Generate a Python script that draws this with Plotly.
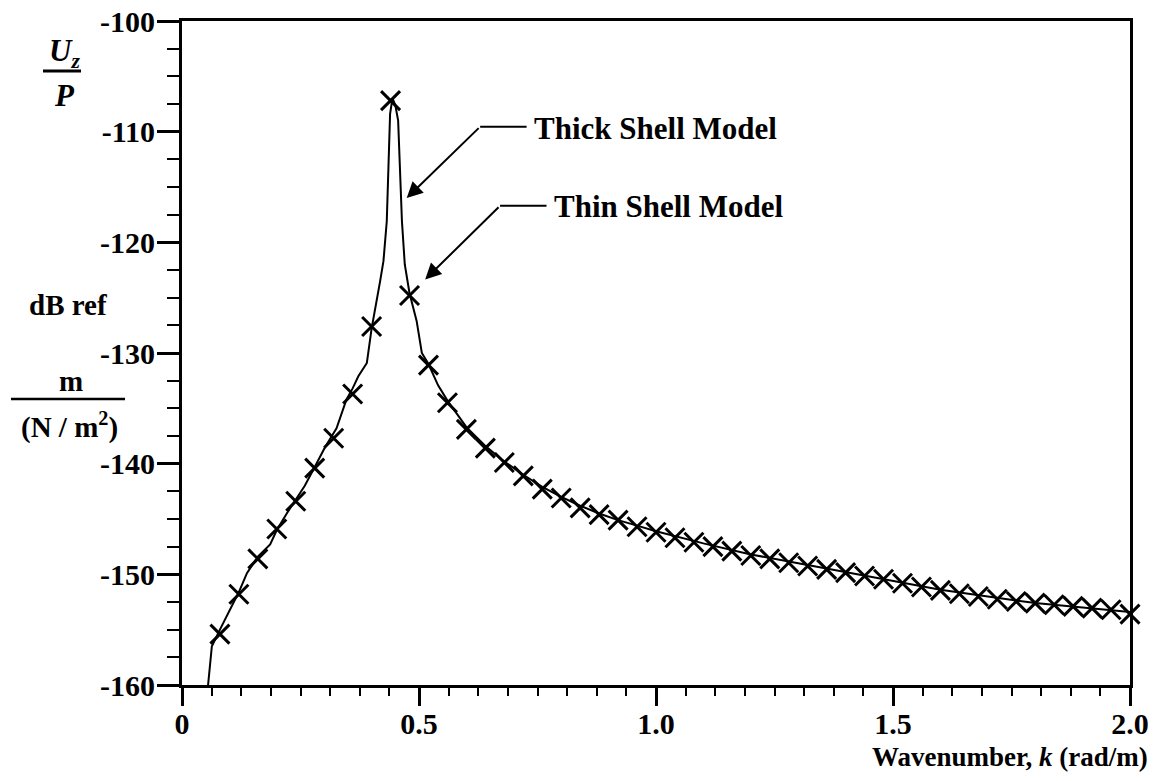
import plotly.graph_objects as go

# ---------------- data ----------------
thin_k = [0.08, 0.12, 0.16, 0.20, 0.24, 0.28, 0.32, 0.36, 0.40, 0.44, 0.48, 0.52,
          0.56, 0.60, 0.64, 0.68, 0.72, 0.76, 0.80, 0.84, 0.88, 0.92, 0.96, 1.00,
          1.04, 1.08, 1.12, 1.16, 1.20, 1.24, 1.28, 1.32, 1.36, 1.40, 1.44, 1.48,
          1.52, 1.56, 1.60, 1.64, 1.68, 1.72, 1.76, 1.80, 1.84, 1.88, 1.92, 1.96, 2.00]
thin_db = [-155.4, -151.8, -148.6, -145.9, -143.4, -140.4, -137.7, -133.7, -127.6, -107.2, -124.8, -131.1,
           -134.5, -136.9, -138.6, -139.9, -141.1, -142.3, -143.1, -144.0, -144.6, -145.1, -145.7, -146.2,
           -146.7, -147.1, -147.5, -147.9, -148.3, -148.6, -148.95, -149.25, -149.55, -149.85, -150.15, -150.45,
           -150.8, -151.15, -151.45, -151.75, -152.0, -152.25, -152.45, -152.6, -152.75, -152.9, -153.05, -153.2, -153.6]

thick_k = [0.055, 0.063, 0.08, 0.10, 0.12, 0.137, 0.16, 0.186, 0.20, 0.221, 0.24, 0.259,
           0.28, 0.302, 0.326, 0.347, 0.36, 0.372, 0.39, 0.40, 0.418, 0.425, 0.432, 0.435,
           0.439, 0.444, 0.45, 0.456, 0.46, 0.464, 0.47, 0.48, 0.495, 0.506, 0.52, 0.54,
           0.56, 0.60, 0.64, 0.68, 0.72, 0.76, 0.80, 0.84, 0.88, 0.92, 0.96, 1.00,
           1.10, 1.20, 1.30, 1.40, 1.50, 1.60, 1.70, 1.80, 1.90, 2.00]
thick_db = [-160.0, -156.5, -155.0, -153.3, -151.6, -149.9, -148.4, -147.3, -146.0, -144.5, -143.2, -142.0,
            -140.3, -138.5, -136.8, -134.2, -133.2, -132.1, -130.9, -127.8, -123.5, -121.7, -118.1, -112.9,
            -108.4, -107.0, -107.6, -109.0, -112.9, -118.1, -122.0, -124.6, -127.1, -130.0, -131.0, -132.9,
            -134.3, -136.7, -138.4, -139.8, -141.0, -142.1, -143.0, -143.8, -144.5, -145.1, -145.6, -146.1,
            -147.2, -148.2, -149.0, -149.8, -150.6, -151.4, -152.0, -152.6, -153.0, -153.4]

x_tickvals = [0, 0.5, 1.0, 1.5, 2.0]
x_ticktext = ["0", "0.5", "1.0", "1.5", "2.0"]
y_tickvals = [-160, -150, -140, -130, -120, -110, -100]
y_ticktext = ["-160", "-150", "-140", "-130", "-120", "-110", "-100"]

# ---------------- layout helpers ----------------
W, H = 1159, 781
L, R, T, B = 182, 29, 21, 96
PW, PH = W - L - R, H - T - B


def px(x):
    return (x - L) / PW


def py(y):
    return (H - B - y) / PH


FONT = "Liberation Serif"


def f(size):
    return dict(family=FONT, size=size, color="black")


fig = go.Figure()
fig.add_trace(go.Scatter(x=thick_k, y=thick_db, mode="lines",
                         line=dict(color="black", width=2), name="Thick Shell Model",
                         showlegend=False))
fig.add_trace(go.Scatter(x=thin_k, y=thin_db, mode="markers",
                         marker=dict(symbol="x-thin", size=19, color="black",
                                     line=dict(color="black", width=3)),
                         name="Thin Shell Model", showlegend=False, cliponaxis=False))

axis_common = dict(showline=True, linecolor="black", linewidth=3, mirror=True,
                   showgrid=False, zeroline=False, ticks="outside", tickcolor="black",
                   tickwidth=2.5,
                   tickfont=dict(family=FONT, size=30, color="black", weight="bold"))

fig.update_xaxes(range=[0, 2], tickmode="array", tickvals=x_tickvals, ticktext=x_ticktext,
                 ticklen=18, ticklabelstandoff=-8,
                 minor=dict(tickmode="linear", tick0=0, dtick=0.0625, ticks="outside",
                            ticklen=8, tickwidth=2, tickcolor="black"),
                 **axis_common)
fig.update_yaxes(range=[-160, -100], tickmode="array", tickvals=y_tickvals, ticktext=y_ticktext,
                 ticklen=22, ticklabelstandoff=-4,
                 minor=dict(tickmode="linear", tick0=-160, dtick=2.5, ticks="outside",
                            ticklen=12, tickwidth=2, tickcolor="black"),
                 **axis_common)

ann = []
# y-axis label block
ann.append(dict(text="<b><i>U<sub>z</sub></i></b>", x=px(64), y=py(53), xref="paper", yref="paper",
                showarrow=False, xanchor="center", yanchor="middle", font=f(31)))
ann.append(dict(text="<b><i>P</i></b>", x=px(64), y=py(95), xref="paper", yref="paper",
                showarrow=False, xanchor="center", yanchor="middle", font=f(31)))
ann.append(dict(text="<b>dB ref</b>", x=px(68), y=py(305), xref="paper", yref="paper",
                showarrow=False, xanchor="center", yanchor="middle", font=f(29)))
ann.append(dict(text="<b>m</b>", x=px(71), y=py(381), xref="paper", yref="paper",
                showarrow=False, xanchor="center", yanchor="middle", font=f(29)))
ann.append(dict(text="<b>(N / m<sup>2</sup>)</b>", x=px(69), y=py(425), xref="paper", yref="paper",
                showarrow=False, xanchor="center", yanchor="middle", font=f(29)))
# x-axis title
ann.append(dict(text="<b>Wavenumber, <i>k</i> (rad/m)</b>", x=px(1150), y=py(757), xref="paper", yref="paper",
                showarrow=False, xanchor="right", yanchor="middle", font=f(27)))
# curve labels
ann.append(dict(text="<b>Thick Shell Model</b>", x=0.738, y=-109.7, xref="x", yref="y",
                showarrow=False, xanchor="left", yanchor="middle", font=f(31)))
ann.append(dict(text="<b>Thin Shell Model</b>", x=0.781, y=-116.8, xref="x", yref="y",
                showarrow=False, xanchor="left", yanchor="middle", font=f(31)))
# arrows (connector diagonals with filled heads)
ann.append(dict(text="", x=0.474, y=-116.0, ax=0.629, ay=-109.55, xref="x", yref="y",
                axref="x", ayref="y", showarrow=True, arrowhead=2, arrowsize=1.6,
                arrowwidth=2, arrowcolor="black"))
ann.append(dict(text="", x=0.513, y=-123.35, ax=0.671, ay=-116.7, xref="x", yref="y",
                axref="x", ayref="y", showarrow=True, arrowhead=2, arrowsize=1.6,
                arrowwidth=2, arrowcolor="black"))

shapes = [
    dict(type="line", xref="x", yref="y", x0=0.629, y0=-109.55, x1=0.727, y1=-109.55,
         line=dict(color="black", width=2)),
    dict(type="line", xref="x", yref="y", x0=0.671, y0=-116.7, x1=0.769, y1=-116.7,
         line=dict(color="black", width=2)),
    dict(type="line", xref="paper", yref="paper", x0=px(43), y0=py(71), x1=px(81), y1=py(71),
         line=dict(color="black", width=3)),
    dict(type="line", xref="paper", yref="paper", x0=px(11), y0=py(399), x1=px(125), y1=py(399),
         line=dict(color="black", width=2.5)),
]

fig.update_layout(width=W, height=H, margin=dict(l=L, r=R, t=T, b=B, autoexpand=False),
                  paper_bgcolor="white", plot_bgcolor="white",
                  annotations=ann, shapes=shapes, showlegend=False,
                  font=dict(family=FONT, color="black"))

fig.write_html("out.html")
